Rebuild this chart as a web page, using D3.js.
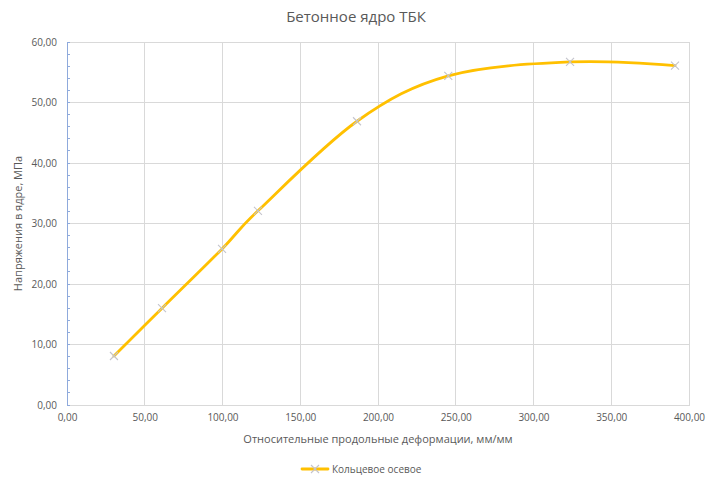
<!DOCTYPE html>
<html><head><meta charset="utf-8">
<script src="https://cdn.jsdelivr.net/npm/d3@7"></script>
<style>body{margin:0;background:#fff;} text{font-family:"Open Sans",Calibri,sans-serif;}</style>
</head><body><svg id="c" width="708" height="479"></svg>
<script>
const title = "Бетонное ядро ТБК";
const xTitle = "Относительные продольные деформации, мм/мм";
const yTitle = "Напряжения в ядре, МПа";
const seriesName = "Кольцевое осевое";
const strain = [30.2, 61.1, 99.7, 122.8, 186.5, 245.2, 323.5, 391.0];
const stress = [8.1, 16.0, 25.8, 32.1, 46.9, 54.4, 56.7, 56.1];
const xTicks = [0,50,100,150,200,250,300,350,400];
const yTicks = [0,10,20,30,40,50,60];
const fmt = v => d3.format(".2f")(v).replace(".", ",");

const svg = d3.select("#c");
const x = d3.scaleLinear().domain([0,400]).range([67,689]);
const y = d3.scaleLinear().domain([0,60]).range([405,42]);
const grey = "#595959";

// gridlines
svg.append("g").selectAll("line").data(yTicks.filter(d=>d>0)).join("line")
  .attr("x1",x(0)).attr("x2",x(400)).attr("y1",d=>y(d)).attr("y2",d=>y(d))
  .attr("stroke","#d9d9d9").attr("stroke-width",1).attr("shape-rendering","crispEdges");
svg.append("g").selectAll("line").data(xTicks.filter(d=>d>0)).join("line")
  .attr("y1",y(0)).attr("y2",y(60)).attr("x1",d=>x(d)).attr("x2",d=>x(d))
  .attr("stroke","#d9d9d9").attr("stroke-width",1).attr("shape-rendering","crispEdges");

// x axis
const xAxis = svg.append("g").attr("transform",`translate(0,${y(0)})`)
  .call(d3.axisBottom(x).tickValues(xTicks).tickFormat(fmt).tickSize(0).tickPadding(9));
xAxis.select(".domain").attr("stroke","#d9d9d9").attr("shape-rendering","crispEdges");
xAxis.selectAll("text").attr("fill",grey).style("font-size","10px").style("font-family","'Open Sans',sans-serif");

// y axis
const yAxis = svg.append("g").attr("transform",`translate(${x(0)},0)`)
  .call(d3.axisLeft(y).tickValues(yTicks).tickFormat(fmt).tickSize(0).tickPadding(10));
yAxis.select(".domain").attr("stroke","#8faadc").attr("shape-rendering","crispEdges");
yAxis.selectAll("text").attr("fill",grey).style("font-size","10px").style("font-family","'Open Sans',sans-serif");
// minor ticks on y axis
const minor = d3.range(0,61,2);
svg.append("g").selectAll("line").data(minor).join("line")
  .attr("x1",x(0)).attr("x2",x(0)+3).attr("y1",d=>y(d)).attr("y2",d=>y(d))
  .attr("stroke","#8faadc").attr("shape-rendering","crispEdges");

// line
const pts = strain.map((s,i)=>[s,stress[i]]);
const line = d3.line().x(d=>x(d[0])).y(d=>y(d[1])).curve(d3.curveCardinal.tension(0));
svg.append("path").datum(pts).attr("d",line).attr("fill","none")
  .attr("stroke","#FFC000").attr("stroke-width",2.8).attr("stroke-linecap","round");

// markers
const mk = 4;
svg.append("g").selectAll("path").data(pts).join("path")
  .attr("d",d=>{const cx=x(d[0]),cy=y(d[1]);return `M${cx-mk},${cy-mk}L${cx+mk},${cy+mk}M${cx-mk},${cy+mk}L${cx+mk},${cy-mk}`;})
  .attr("stroke","#c4c4cc").attr("stroke-width",1.1).attr("fill","none");

// titles
svg.append("text").attr("x",356).attr("y",22).attr("text-anchor","middle")
  .attr("fill",grey).style("font-size","15px").text(title);
svg.append("text").attr("x",378).attr("y",443).attr("text-anchor","middle")
  .attr("fill",grey).style("font-size","11px").text(xTitle);
svg.append("text").attr("transform",`translate(22,${(y(0)+y(60))/2}) rotate(-90)`).attr("text-anchor","middle")
  .attr("fill",grey).style("font-size","11px").text(yTitle);

// legend
const lg = svg.append("g");
lg.append("line").attr("x1",302).attr("x2",328).attr("y1",469).attr("y2",469)
  .attr("stroke","#FFC000").attr("stroke-width",2.8).attr("stroke-linecap","round");
lg.append("path").attr("d",`M${315-mk},${469-mk}L${315+mk},${469+mk}M${315-mk},${469+mk}L${315+mk},${469-mk}`)
  .attr("stroke","#c4c4cc").attr("stroke-width",1.1);
lg.append("text").attr("x",332).attr("y",473).attr("fill",grey).style("font-size","10px").text(seriesName);
</script></body></html>
